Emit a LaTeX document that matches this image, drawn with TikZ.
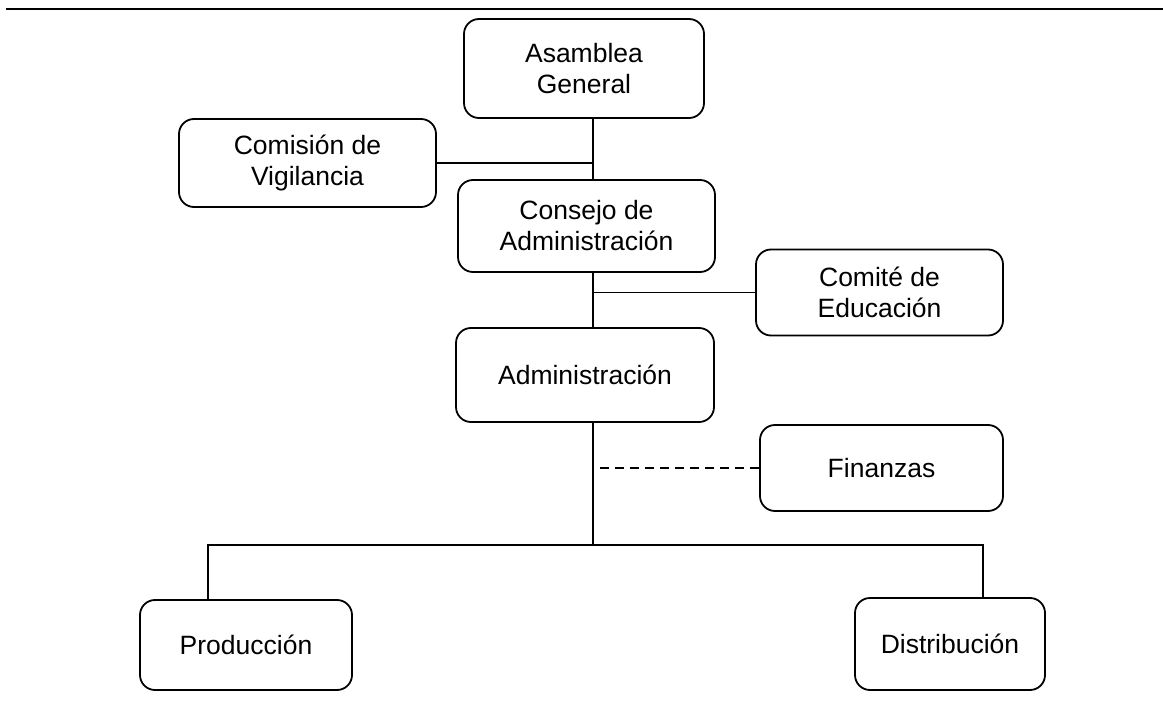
\documentclass[tikz,border=0pt]{standalone}
\usepackage{fontspec}
\setmainfont{Liberation Sans}
\begin{document}
\begin{tikzpicture}[x=1pt,y=-1pt,
  box/.style={draw, line width=1.8pt, rounded corners=15pt, align=center,
    font=\fontsize{26.5}{31}\selectfont, inner sep=0pt},
  conn/.style={line width=1.8pt},
  dconn/.style={line width=1.8pt, dash pattern=on 9pt off 6pt}]
\useasboundingbox (0,0) rectangle (1163,706);
\coordinate (r1) at (6,9);
\coordinate (r2) at (1163,9);
\draw[line width=2.4pt] (r1) -- (r2);
\coordinate (spine) at (593,0);
\node[box, minimum width=240pt, minimum height=99pt] (asam) at (584,68.5) {Asamblea\\General};
\node[box, minimum width=257pt, minimum height=88pt] (comi) at (307.5,163) {Comisión de\\Vigilancia};
\node[box, minimum width=257pt, minimum height=92pt] (cons) at (586.5,226) {Consejo de\\Administración};
\node[box, minimum width=247pt, minimum height=86pt] (edu) at (879.5,292.5) {Comité de\\Educación};
\node[box, minimum width=258pt, minimum height=94pt] (admin) at (585,375) {Administración};
\node[box, minimum width=243pt, minimum height=86pt] (fin) at (881.5,468) {Finanzas};
\node[box, minimum width=212pt, minimum height=90pt] (prod) at (246,645) {Producción};
\node[box, minimum width=190pt, minimum height=92pt] (dist) at (950,644) {Distribución};
\coordinate (bar) at (593,545);
\coordinate (barL) at (208,545);
\coordinate (barR) at (983,545);
\draw[conn] (asam.south -| spine) -- (cons.north -| spine);
\draw[conn] (comi.east) -- (comi.east -| spine);
\draw[conn] (cons.south -| spine) -- (admin.north -| spine);
\draw[conn] (edu.west) -- (edu.west -| spine);
\draw[conn] (admin.south -| spine) -- (bar);
\draw[dconn] (fin.west) -- (fin.west -| spine);
\draw[conn] (prod.north -| barL) -- (barL) -- (barR) -- (dist.north -| barR);
\end{tikzpicture}
\end{document}
